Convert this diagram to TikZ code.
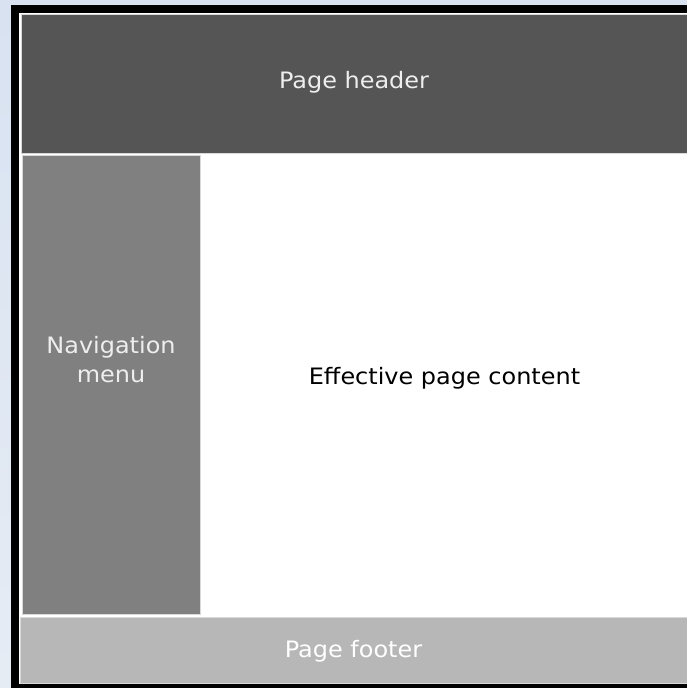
\documentclass[tikz,border=0pt]{standalone}
\usepackage{fontspec}
\setmainfont{DejaVu Sans}[FakeStretch=1.06]
\definecolor{bgsky}{HTML}{D8E2F1}
\definecolor{bgsoft}{HTML}{E6ECF4}
\definecolor{hdrgrey}{HTML}{555555}
\definecolor{navgrey}{HTML}{808080}
\definecolor{footgrey}{HTML}{B7B7B7}
\definecolor{edgegrey}{HTML}{D9D9D9}
\definecolor{lighttext}{HTML}{EEEEEE}
\tikzset{
  region/.style={anchor=north west, inner sep=0pt, outer sep=0pt,
    draw=edgegrey, line width=0.8pt},
  caption/.style={anchor=base, inner sep=0pt,
    font=\fontsize{22.6}{29}\selectfont, align=center},
}
\begin{document}
\begin{tikzpicture}[x=1pt, y=-1pt]
  \useasboundingbox (0,0) rectangle (687,688);
  % soft sky backdrop behind the page frame
  \shade[top color=bgsky, bottom color=bgsoft] (0,0) rectangle (687,688);
  % black page frame and white page body
  \fill[black] (11,5) rectangle (687,688);
  \fill[white] (19,13) rectangle (687,684);
  % layout regions
  \node[region, fill=hdrgrey, minimum width=666pt, minimum height=138.5pt]
    (header) at (21,14.5) {};
  \node[region, fill=navgrey, minimum width=178pt, minimum height=459pt]
    (nav) at (22,155.5) {};
  \node[region, draw=none, fill=white, minimum width=485pt, minimum height=459pt]
    (content) at (202,155.5) {};
  \node[region, fill=footgrey, minimum width=667pt, minimum height=65.5pt]
    (footer) at (20,617.5) {};
  % region captions (base anchor sits on the last line's baseline)
  \node[caption, text=lighttext] (headertext) at (header.center |- 0,88) {Page header};
  \node[caption, text=lighttext] (navtext) at (nav.center |- 0,382) {Navigation\\menu};
  \node[caption, text=black] (contenttext) at (content.center |- 0,384) {Effective page content};
  \node[caption, text=white] (footertext) at (footer.center |- 0,657) {Page footer};
\end{tikzpicture}
\end{document}
